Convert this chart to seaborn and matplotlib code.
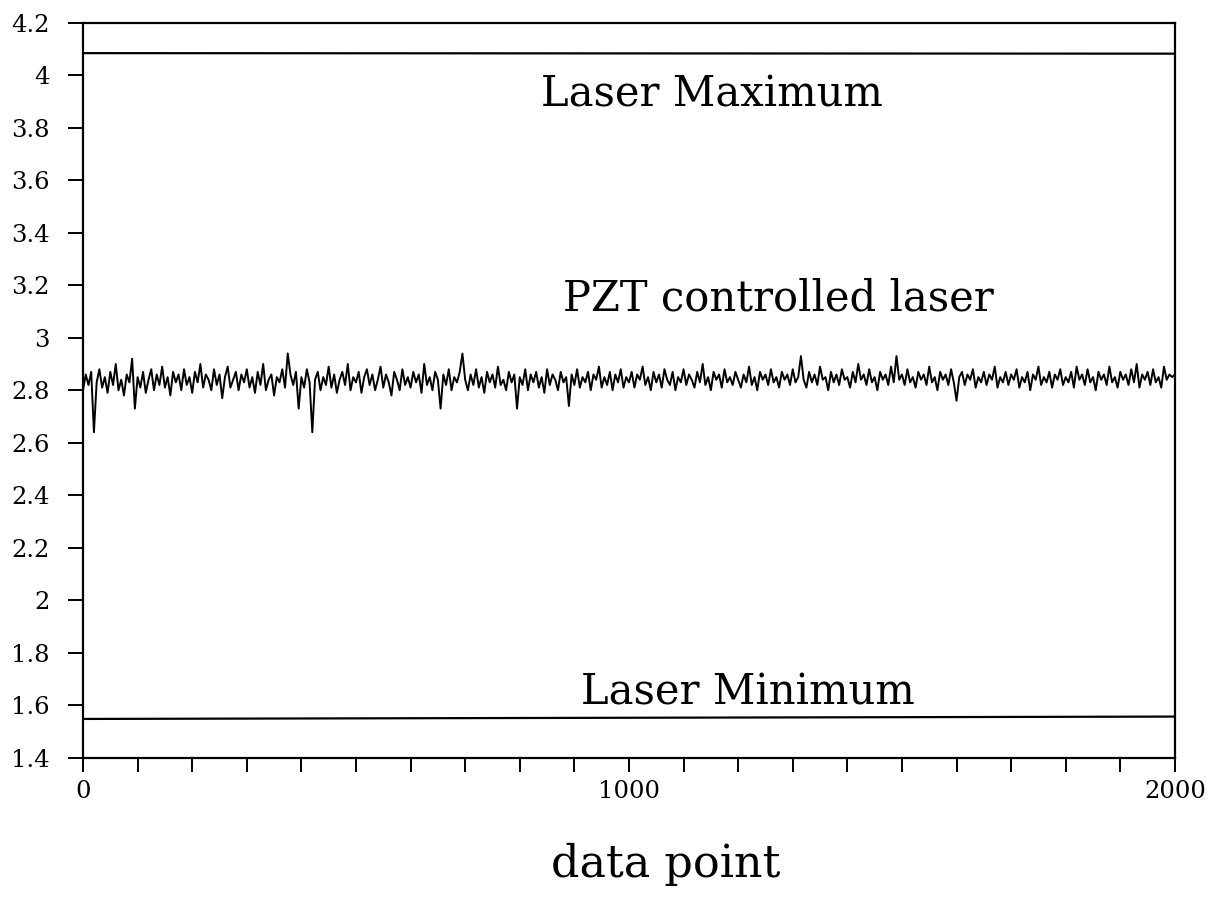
import numpy as np
import pandas as pd
import matplotlib
matplotlib.use("Agg")
import matplotlib.pyplot as plt
import seaborn as sns

# ---- data -----------------------------------------------------------
pzt_signal = [
    2.80, 2.86, 2.82, 2.87, 2.64, 2.83, 2.88, 2.81, 2.85, 2.79, 2.87, 2.82, 2.90, 2.80, 2.84, 2.78, 2.86, 2.83, 2.92, 2.73,
    2.85, 2.81, 2.87, 2.79, 2.84, 2.88, 2.80, 2.86, 2.82, 2.89, 2.81, 2.85, 2.78, 2.87, 2.83, 2.86, 2.80, 2.88, 2.82, 2.85,
    2.79, 2.87, 2.83, 2.90, 2.81, 2.86, 2.84, 2.80, 2.88, 2.82, 2.86, 2.77, 2.85, 2.89, 2.81, 2.84, 2.87, 2.80, 2.86, 2.83,
    2.88, 2.81, 2.85, 2.79, 2.87, 2.82, 2.90, 2.80, 2.84, 2.86, 2.78, 2.85, 2.83, 2.88, 2.81, 2.94, 2.86, 2.82, 2.87, 2.73,
    2.85, 2.81, 2.88, 2.83, 2.64, 2.84, 2.87, 2.80, 2.85, 2.82, 2.89, 2.81, 2.86, 2.79, 2.84, 2.87, 2.82, 2.90, 2.80, 2.85,
    2.83, 2.87, 2.79, 2.85, 2.88, 2.82, 2.86, 2.80, 2.84, 2.89, 2.81, 2.86, 2.83, 2.78, 2.87, 2.84, 2.80, 2.88, 2.82, 2.85,
    2.81, 2.87, 2.83, 2.86, 2.79, 2.90, 2.82, 2.85, 2.80, 2.87, 2.84, 2.73, 2.86, 2.82, 2.88, 2.80, 2.85, 2.83, 2.87, 2.94,
    2.84, 2.80, 2.86, 2.82, 2.88, 2.81, 2.85, 2.79, 2.87, 2.83, 2.86, 2.81, 2.89, 2.82, 2.84, 2.80, 2.87, 2.83, 2.86, 2.73,
    2.85, 2.82, 2.88, 2.80, 2.86, 2.83, 2.87, 2.81, 2.85, 2.79, 2.88, 2.82, 2.86, 2.84, 2.80, 2.87, 2.83, 2.85, 2.74, 2.86,
    2.82, 2.88, 2.81, 2.85, 2.83, 2.87, 2.80, 2.86, 2.84, 2.89, 2.81, 2.85, 2.82, 2.87, 2.80, 2.86, 2.83, 2.88, 2.81, 2.85,
    2.83, 2.87, 2.81, 2.86, 2.84, 2.89, 2.82, 2.85, 2.80, 2.87, 2.83, 2.86, 2.81, 2.88, 2.84, 2.82, 2.87, 2.80, 2.85, 2.83,
    2.88, 2.82, 2.86, 2.84, 2.81, 2.87, 2.83, 2.90, 2.82, 2.85, 2.80, 2.87, 2.84, 2.86, 2.81, 2.88, 2.83, 2.85, 2.82, 2.87,
    2.84, 2.81, 2.86, 2.83, 2.89, 2.82, 2.85, 2.80, 2.87, 2.84, 2.86, 2.82, 2.88, 2.83, 2.85, 2.81, 2.87, 2.84, 2.86, 2.82,
    2.88, 2.83, 2.85, 2.93, 2.84, 2.81, 2.87, 2.83, 2.86, 2.82, 2.89, 2.84, 2.85, 2.80, 2.87, 2.83, 2.86, 2.82, 2.88, 2.84,
    2.85, 2.81, 2.87, 2.83, 2.90, 2.84, 2.86, 2.82, 2.88, 2.83, 2.85, 2.80, 2.87, 2.84, 2.86, 2.82, 2.89, 2.83, 2.93, 2.84,
    2.86, 2.82, 2.88, 2.83, 2.85, 2.81, 2.87, 2.84, 2.86, 2.82, 2.89, 2.83, 2.85, 2.80, 2.87, 2.84, 2.86, 2.82, 2.88, 2.83,
    2.76, 2.85, 2.87, 2.82, 2.86, 2.84, 2.88, 2.81, 2.85, 2.83, 2.87, 2.82, 2.86, 2.84, 2.89, 2.81, 2.85, 2.83, 2.87, 2.82,
    2.86, 2.84, 2.88, 2.81, 2.85, 2.83, 2.87, 2.80, 2.86, 2.84, 2.89, 2.82, 2.85, 2.83, 2.87, 2.81, 2.86, 2.84, 2.88, 2.82,
    2.85, 2.83, 2.87, 2.81, 2.89, 2.84, 2.86, 2.82, 2.88, 2.83, 2.85, 2.80, 2.87, 2.84, 2.86, 2.82, 2.89, 2.83, 2.85, 2.81,
    2.87, 2.84, 2.86, 2.82, 2.88, 2.83, 2.90, 2.81, 2.86, 2.84, 2.87, 2.82, 2.88, 2.83, 2.85, 2.81, 2.89, 2.84, 2.86, 2.85,
    2.86,
]
pzt_step = 5
laser_max_x = [0, 2000]
laser_max_y = [4.084, 4.082]
laser_min_x = [0, 2000]
laser_min_y = [1.548, 1.557]

y_ticks = [1.4, 1.6, 1.8, 2.0, 2.2, 2.4, 2.6, 2.8, 3.0, 3.2, 3.4, 3.6, 3.8, 4.0, 4.2]
y_tick_labels = ["1.4", "1.6", "1.8", "2", "2.2", "2.4", "2.6", "2.8", "3",
                 "3.2", "3.4", "3.6", "3.8", "4", "4.2"]
x_ticks = list(range(0, 2001, 100))
x_tick_labels = ["0" if t == 0 else "1000" if t == 1000 else "2000" if t == 2000 else "" for t in x_ticks]

annotations = [
    ("Laser Maximum", 1152, 3.925),
    ("PZT controlled laser", 1273, 3.15),
    ("Laser Minimum", 1218, 1.65),
]
x_label = "data point"

# ---- plot -----------------------------------------------------------
sns.set_theme(style="ticks")
plt.rcParams["font.family"] = ["DejaVu Serif"]

fig = plt.figure(figsize=(12.1, 9.0), dpi=100)
ax = fig.add_axes([0.0686, 0.158, 0.9024, 0.8168])

pzt_df = pd.DataFrame({"x": np.arange(len(pzt_signal)) * pzt_step, "y": pzt_signal})
sns.lineplot(data=pzt_df, x="x", y="y", ax=ax, color="black", linewidth=1.4)
sns.lineplot(x=laser_max_x, y=laser_max_y, ax=ax, color="black", linewidth=1.6)
sns.lineplot(x=laser_min_x, y=laser_min_y, ax=ax, color="black", linewidth=1.6)

ax.set_xlim(0, 2000)
ax.set_ylim(1.4, 4.2)
ax.set_yticks(y_ticks)
ax.set_yticklabels(y_tick_labels, fontsize=17.5)
ax.set_xticks(x_ticks)
ax.set_xticklabels(x_tick_labels, fontsize=17.5)
ax.tick_params(axis="x", direction="out", length=10, width=1.4, pad=6, colors="black")
ax.tick_params(axis="y", direction="out", length=11, width=1.4, pad=13, colors="black")
for s in ax.spines.values():
    s.set_linewidth(1.6)
    s.set_color("black")

for txt, xx, yy in annotations:
    ax.text(xx, yy, txt, ha="center", va="center", fontsize=30, color="black")

ax.set_xlabel(x_label, fontsize=32, color="black")
ax.xaxis.set_label_coords(0.534, -0.115)
ax.set_ylabel("")

fig.savefig("out.png", dpi=100, facecolor="white")
